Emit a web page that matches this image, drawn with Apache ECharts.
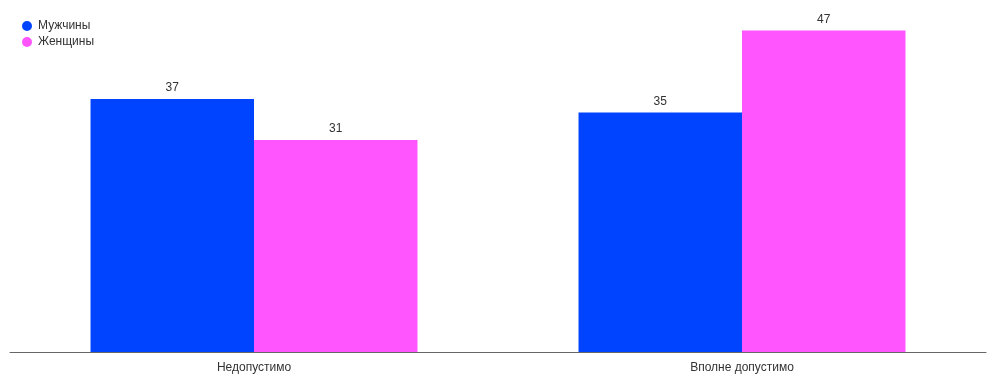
<!DOCTYPE html>
<html><head><meta charset="utf-8">
<script src="https://cdn.jsdelivr.net/npm/echarts@6/dist/echarts.min.js"></script>
<style>html,body{margin:0;padding:0;background:#fff}#c{width:996px;height:384px}</style>
</head><body><div id="c"></div>
<script>
const categories = ['Недопустимо', 'Вполне допустимо'];
const men = [37, 35];
const women = [31, 47];
const seriesNames = ['Мужчины', 'Женщины'];

const chart = echarts.init(document.getElementById('c'));
chart.setOption({
  animation: false,
  textStyle: { fontFamily: 'Arial, "Liberation Sans", sans-serif' },
  legend: {
    orient: 'vertical', left: 17, top: 15, itemGap: 4,
    icon: 'circle', itemWidth: 10, itemHeight: 10,
    textStyle: { fontSize: 12, color: '#333', padding: [0, 0, 0, 1] },
    data: seriesNames
  },
  grid: { left: 10, right: 10, top: 10, bottom: 32, containLabel: false },
  xAxis: {
    type: 'category', data: categories,
    axisLine: { lineStyle: { color: '#666' } },
    axisTick: { show: false },
    axisLabel: { color: '#333', fontSize: 12, margin: 10 }
  },
  yAxis: { type: 'value', min: 0, max: 50, show: false, splitLine: { show: false } },
  series: [
    { name: seriesNames[0], type: 'bar', data: men, barGap: '0%', barCategoryGap: '33%',
      itemStyle: { color: '#0044ff' },
      label: { show: true, position: 'top', color: '#333', fontSize: 12 } },
    { name: seriesNames[1], type: 'bar', data: women,
      itemStyle: { color: '#ff55ff' },
      label: { show: true, position: 'top', color: '#333', fontSize: 12 } }
  ]
});
</script></body></html>
